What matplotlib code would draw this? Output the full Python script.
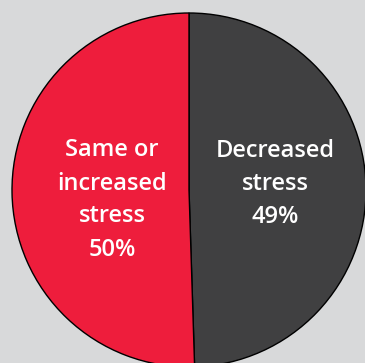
import matplotlib
matplotlib.use("Agg")
import matplotlib.pyplot as plt

# Survey result: change in reported stress
categories = ["Decreased\nstress", "Same or\nincreased\nstress"]
shares = [49, 50]
colors = ["#404041", "#EE1D3C"]

W, H = 365, 363
fig = plt.figure(figsize=(W / 100, H / 100), dpi=100)
fig.patch.set_facecolor("#D8D9DA")
ax = fig.add_axes([0, 0, 1, 1])
ax.set_facecolor("#D8D9DA")

center = (189, H - 190)
radius = 177
ax.pie(shares, colors=colors, startangle=90, counterclock=False,
       center=center, radius=radius,
       wedgeprops=dict(edgecolor="black", linewidth=1.0))

ax.set_xlim(0, W)
ax.set_ylim(0, H)
ax.set_aspect("equal")
ax.axis("off")

font = dict(family="Open Sans", fontsize=17, color="white",
            weight="semibold", ha="center", va="center", linespacing=1.5)
ax.text(275, H - 184, f"{categories[0]}\n{shares[0]}%", **font)
ax.text(112, H - 200, f"{categories[1]}\n{shares[1]}%", **font)

fig.savefig("out.png", dpi=100, facecolor=fig.get_facecolor())
